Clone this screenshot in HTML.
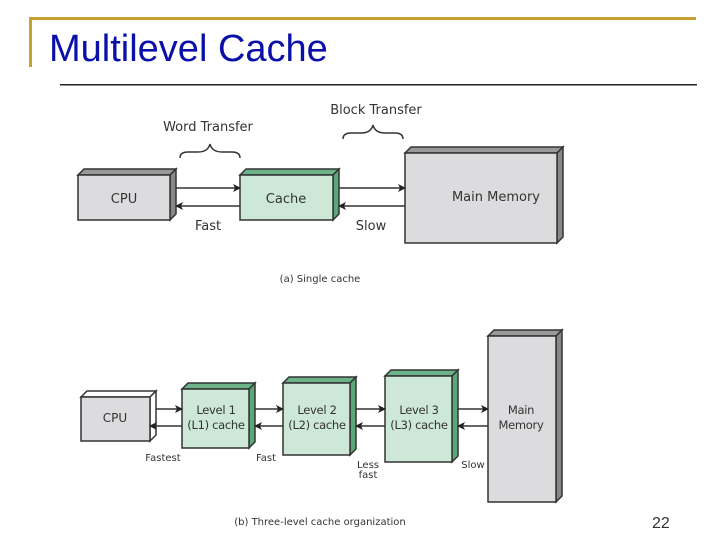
<!DOCTYPE html>
<html><head><meta charset="utf-8"><style>
html,body{margin:0;padding:0;background:#fff}
body{width:720px;height:540px;overflow:hidden;position:relative}
</style></head><body>
<svg width="720" height="540" viewBox="0 0 720 540" xmlns="http://www.w3.org/2000/svg" style="position:absolute;left:0;top:0">
<defs>
<marker id="ah" markerWidth="8" markerHeight="8" refX="7" refY="4" orient="auto" markerUnits="userSpaceOnUse">
<path d="M0,0 L8,4 L0,8 L2,4 z" fill="#222"/>
</marker>
</defs>
<rect x="30" y="17" width="666" height="3" fill="#c8a030"/>
<rect x="29" y="17" width="3" height="50" fill="#c8a030"/>
<text x="49" y="61" font-family="Liberation Sans, sans-serif" font-size="38" fill="#0a10a8">Multilevel Cache</text>
<rect x="60" y="84" width="637" height="1.5" fill="#222"/>

<g font-family="DejaVu Sans, sans-serif" fill="#333">
<g stroke="#333" stroke-width="1.5">
<polygon points="78,175 84,169 176,169 170,175" fill="#999"/>
<polygon points="170,175 176,169 176,214 170,220" fill="#888"/>
<rect x="78" y="175" width="92" height="45" fill="#dcdcde"/>
<polygon points="240,175 246,169 339,169 333,175" fill="#6db38a"/>
<polygon points="333,175 339,169 339,214 333,220" fill="#5aa878"/>
<rect x="240" y="175" width="93" height="45" fill="#cde8d6"/>
<polygon points="405,153 411,147 563,147 557,153" fill="#999"/>
<polygon points="557,153 563,147 563,237 557,243" fill="#888"/>
<rect x="405" y="153" width="152" height="90" fill="#dcdcde"/>
<line x1="176" y1="188" x2="240" y2="188" marker-end="url(#ah)"/>
<line x1="240" y1="206" x2="176" y2="206" marker-end="url(#ah)"/>
<line x1="339" y1="188" x2="405" y2="188" marker-end="url(#ah)"/>
<line x1="405" y1="206" x2="339" y2="206" marker-end="url(#ah)"/>
<path d="M180,158 q0,-6 8,-6 l10,0 q10,0 12,-8 q2,8 12,8 l10,0 q8,0 8,6" fill="none"/>
<path d="M343,139 q0,-6 8,-6 l10,0 q10,0 12,-8 q2,8 12,8 l10,0 q8,0 8,6" fill="none"/>
</g>
<text x="124" y="203" font-size="13" text-anchor="middle">CPU</text>
<text x="286" y="203" font-size="13" text-anchor="middle">Cache</text>
<text x="496" y="201" font-size="13" text-anchor="middle">Main Memory</text>
<text x="208" y="131" font-size="13" text-anchor="middle">Word Transfer</text>
<text x="376" y="114" font-size="13" text-anchor="middle">Block Transfer</text>
<text x="208" y="230" font-size="13" text-anchor="middle">Fast</text>
<text x="371" y="230" font-size="13" text-anchor="middle">Slow</text>
<text x="320" y="282" font-size="10" text-anchor="middle">(a) Single cache</text>

<g stroke="#333" stroke-width="1.5">
<polygon points="81,397 87,391 156,391 150,397" fill="#fff"/>
<polygon points="150,397 156,391 156,435 150,441" fill="#fff"/>
<rect x="81" y="397" width="69" height="44" fill="#dcdcde"/>
<polygon points="182,389 188,383 255,383 249,389" fill="#6db38a"/>
<polygon points="249,389 255,383 255,442 249,448" fill="#5aa878"/>
<rect x="182" y="389" width="67" height="59" fill="#cde8d6"/>
<polygon points="283,383 289,377 356,377 350,383" fill="#6db38a"/>
<polygon points="350,383 356,377 356,449 350,455" fill="#5aa878"/>
<rect x="283" y="383" width="67" height="72" fill="#cde8d6"/>
<polygon points="385,376 391,370 458,370 452,376" fill="#6db38a"/>
<polygon points="452,376 458,370 458,456 452,462" fill="#5aa878"/>
<rect x="385" y="376" width="67" height="86" fill="#cde8d6"/>
<polygon points="488,336 494,330 562,330 556,336" fill="#999"/>
<polygon points="556,336 562,330 562,496 556,502" fill="#888"/>
<rect x="488" y="336" width="68" height="166" fill="#dcdcde"/>
<line x1="156" y1="409" x2="182" y2="409" marker-end="url(#ah)"/>
<line x1="182" y1="426" x2="150" y2="426" marker-end="url(#ah)"/>
<line x1="255" y1="409" x2="283" y2="409" marker-end="url(#ah)"/>
<line x1="283" y1="426" x2="255" y2="426" marker-end="url(#ah)"/>
<line x1="356" y1="409" x2="385" y2="409" marker-end="url(#ah)"/>
<line x1="385" y1="426" x2="356" y2="426" marker-end="url(#ah)"/>
<line x1="458" y1="409" x2="488" y2="409" marker-end="url(#ah)"/>
<line x1="488" y1="426" x2="458" y2="426" marker-end="url(#ah)"/>
</g>
<text x="115" y="422" font-size="12" text-anchor="middle">CPU</text>
<g font-size="11.5" text-anchor="middle" style="letter-spacing:-0.3px">
<text x="216" y="414">Level 1</text>
<text x="216" y="429">(L1) cache</text>
<text x="317" y="414">Level 2</text>
<text x="317" y="429">(L2) cache</text>
<text x="419" y="414">Level 3</text>
<text x="419" y="429">(L3) cache</text>
<text x="521" y="414">Main</text>
<text x="521" y="429">Memory</text>
</g>
<text x="163" y="461" font-size="10" text-anchor="middle">Fastest</text>
<text x="266" y="461" font-size="10" text-anchor="middle">Fast</text>
<text x="368" y="468" font-size="10" text-anchor="middle">Less</text>
<text x="368" y="478" font-size="10" text-anchor="middle">fast</text>
<text x="473" y="468" font-size="10" text-anchor="middle">Slow</text>
<text x="320" y="525" font-size="10" text-anchor="middle">(b) Three-level cache organization</text>
</g>
<text x="652" y="528" font-family="Liberation Sans, sans-serif" font-size="16" fill="#333">22</text>
</svg>
</body></html>
